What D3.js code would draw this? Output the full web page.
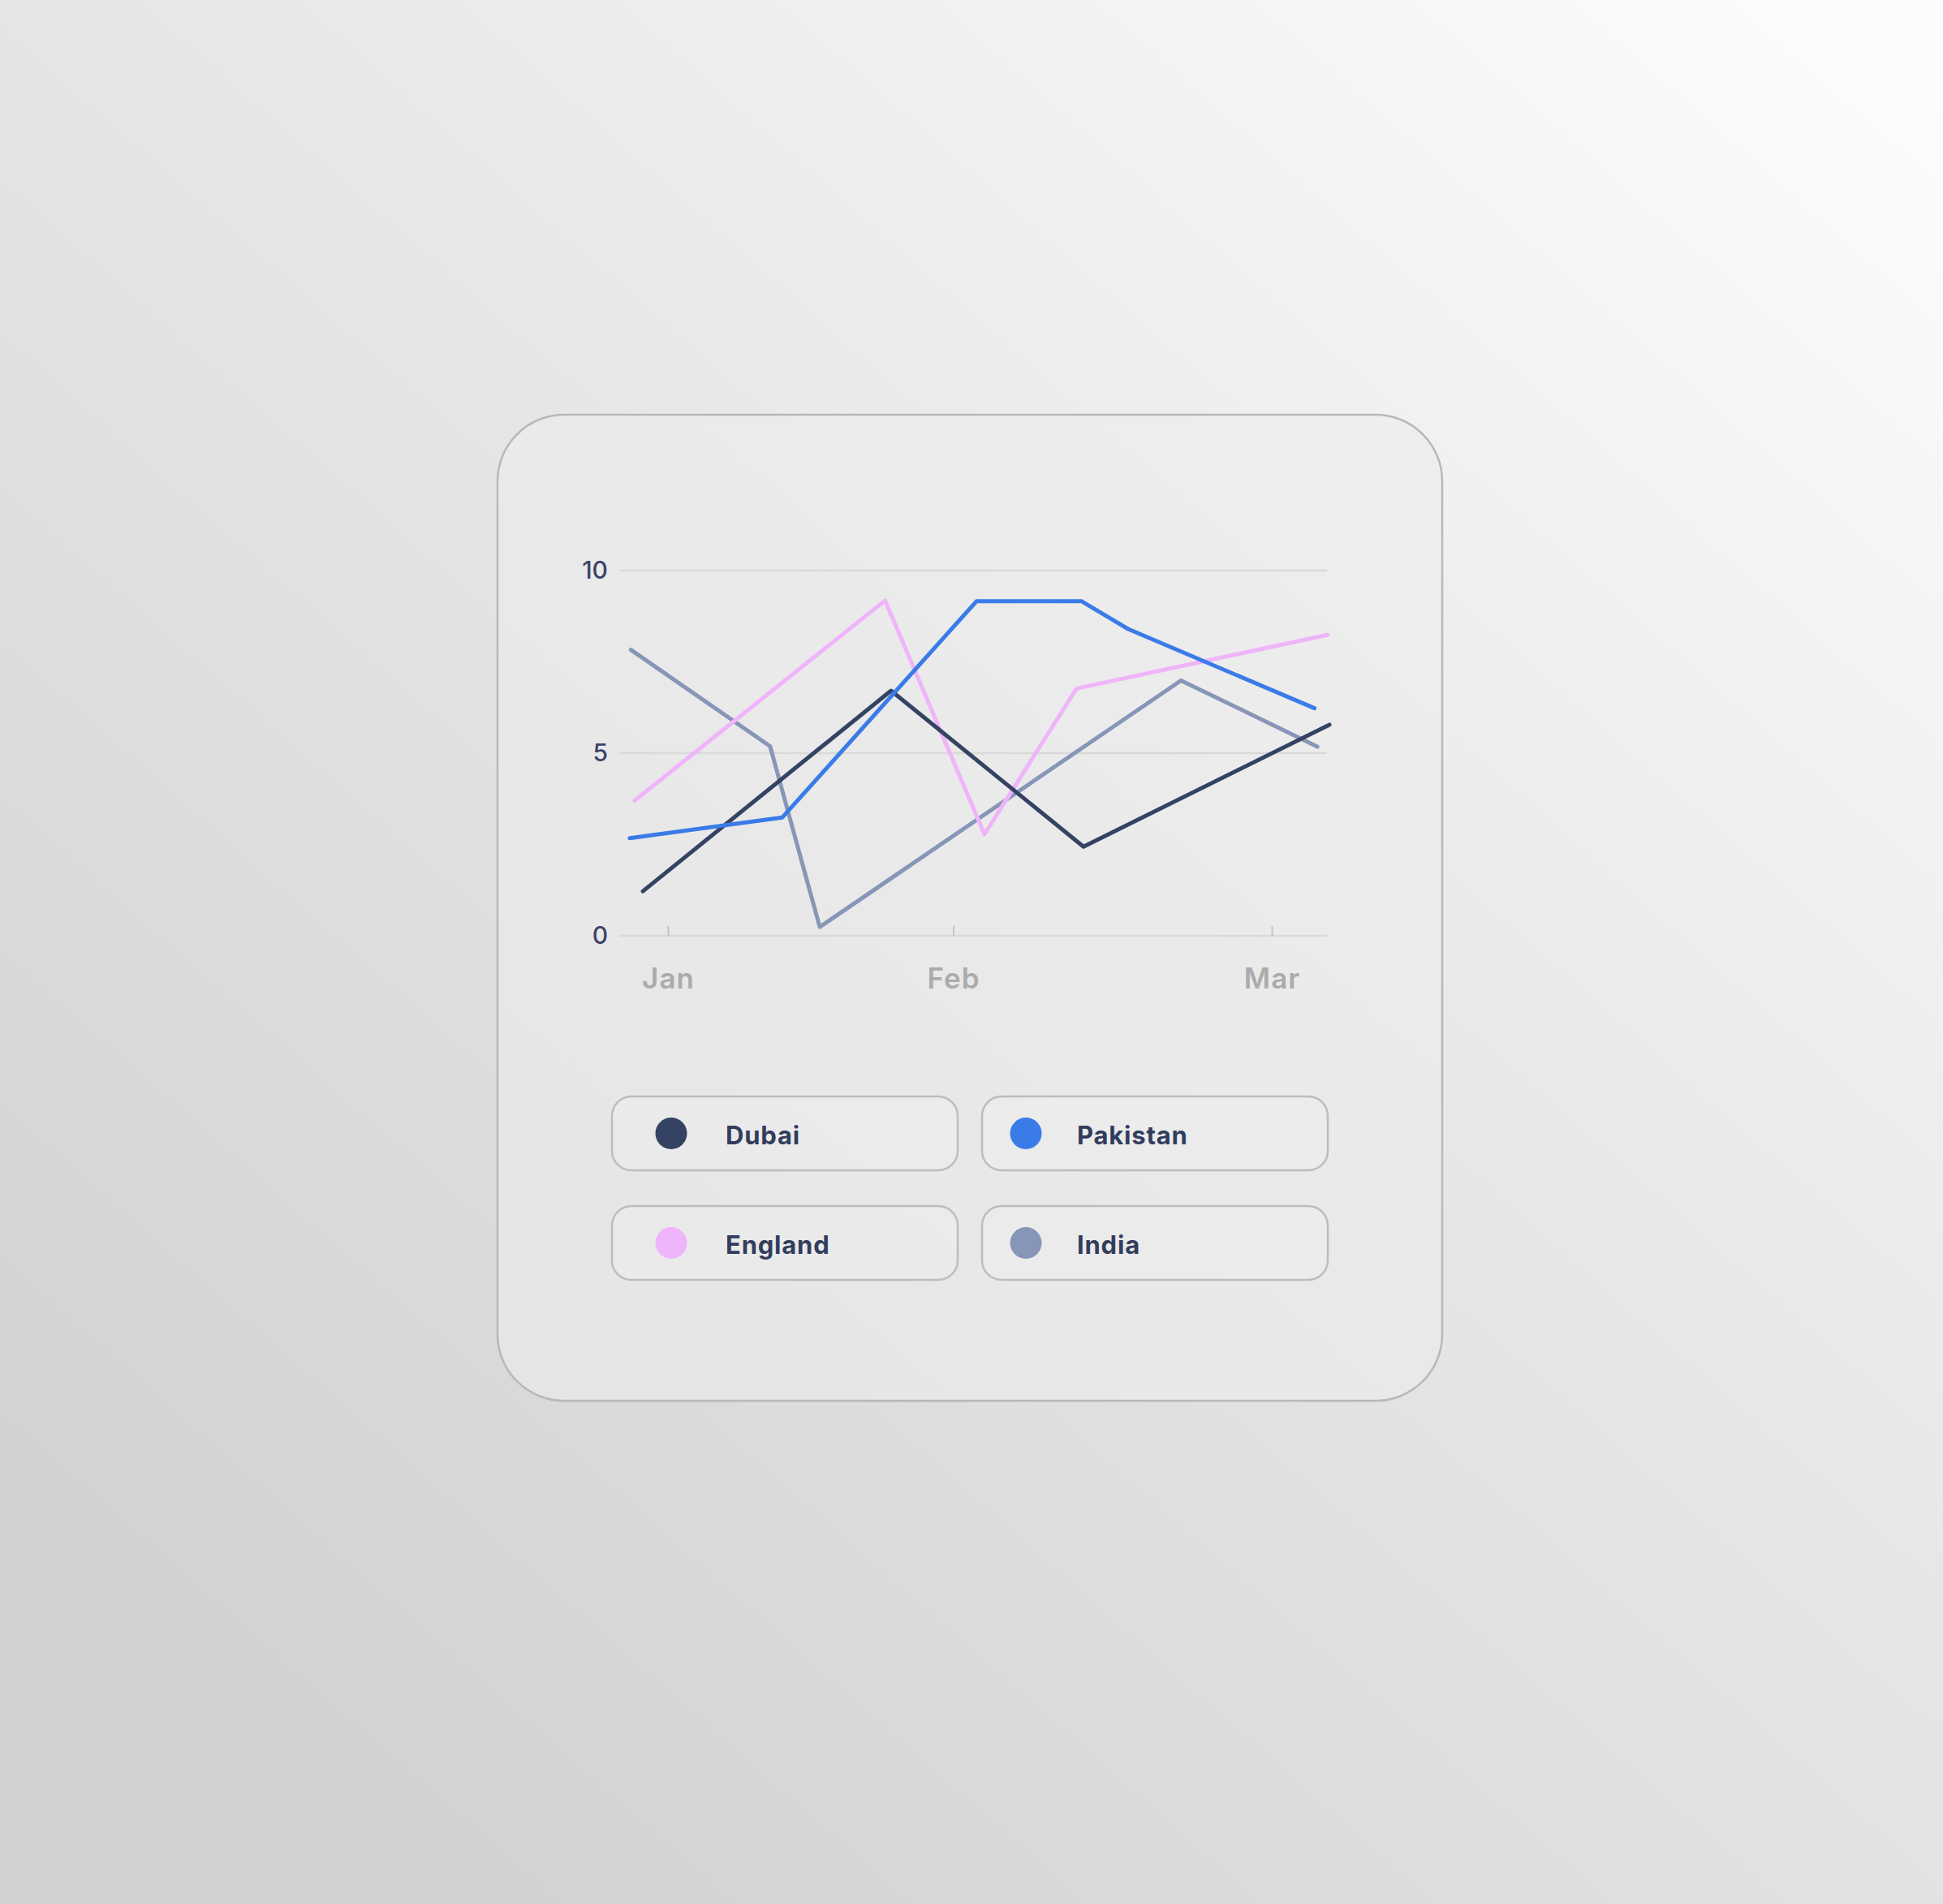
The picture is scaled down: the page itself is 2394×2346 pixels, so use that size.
<!DOCTYPE html>
<html lang="en">
<head>
<meta charset="utf-8">
<title>Line chart card</title>
<script src="https://cdn.jsdelivr.net/npm/d3@7"></script>
<style>
  html, body { margin: 0; padding: 0; background: #e6e6e6; }
  svg { display: block; font-family: "Inter", "Open Sans", sans-serif; }
</style>
</head>
<body>
<div id="chart"></div>
<script>
// data. x is in "months from Jan" units
var months = ["Jan", "Feb", "Mar"];
var yTicks = [0, 5, 10];
var seriesNames = ["Dubai", "Pakistan", "England", "India"];
var seriesColors = ["#344263", "#3a7be8", "#f0b4fa", "#8796b8"];

var dubaiX = [-0.088, 0.782, 1.409, 2.181];
var dubaiY = [1.22, 6.71, 2.44, 5.78];

var pakistanX = [-0.134, 0.401, 1.073, 1.403, 1.549, 2.134];
var pakistanY = [2.67, 3.24, 9.16, 9.16, 8.40, 6.23];

var englandX = [-0.117, 0.761, 1.098, 1.387, 2.175];
var englandY = [3.70, 9.18, 2.78, 6.77, 8.24];

var indiaX = [-0.130, 0.358, 0.532, 1.715, 2.143];
var indiaY = [7.83, 5.19, 0.24, 6.99, 5.18];

var W = 2394, H = 2346;

var svg = d3.select("#chart").append("svg")
    .attr("width", W)
    .attr("height", H);

// page background
var defs = svg.append("defs");
var bg = defs.append("linearGradient")
    .attr("id", "bg")
    .attr("gradientUnits", "userSpaceOnUse")
    .attr("x1", 420).attr("y1", 2200)
    .attr("x2", 2300).attr("y2", 60);
bg.append("stop").attr("offset", 0).attr("stop-color", "#d2d2d2");
bg.append("stop").attr("offset", 0.5).attr("stop-color", "#e6e6e6");
bg.append("stop").attr("offset", 1).attr("stop-color", "#fcfcfc");

svg.append("rect")
    .attr("width", W)
    .attr("height", H)
    .attr("fill", "url(#bg)");

// card
svg.append("rect")
    .attr("x", 613).attr("y", 511)
    .attr("width", 1164).attr("height", 1215)
    .attr("rx", 82)
    .attr("fill", "rgba(236,236,236,0.6)")
    .attr("stroke", "#b8b8b8")
    .attr("stroke-width", 2.5);

// plot area
var left = 763, right = 1635;

var x = d3.scaleLinear()
    .domain([0, 1, 2])
    .range([823, 1174.5, 1567]);

var y = d3.scaleLinear()
    .domain([0, 10])
    .range([1153, 703]);

// grid lines
svg.append("g").selectAll("line")
    .data(yTicks)
    .enter().append("line")
    .attr("x1", left).attr("x2", right)
    .attr("y1", function(d) { return y(d); })
    .attr("y2", function(d) { return y(d); })
    .attr("stroke", "#d9d9d9")
    .attr("stroke-width", 2.5);

// y labels
var yAxis = svg.append("g")
    .attr("transform", "translate(" + (left - 14) + ",0)")
    .call(d3.axisLeft(y).tickValues(yTicks).tickSize(0).tickPadding(0));
yAxis.select(".domain").remove();
yAxis.selectAll("text")
    .attr("font-family", "Inter, sans-serif")
    .attr("font-size", 30)
    .attr("font-weight", 500)
    .attr("fill", "#3a4468");

// x axis: small ticks pointing up, grey month labels
var xAxis = svg.append("g")
    .attr("transform", "translate(0," + y(0) + ")")
    .call(d3.axisBottom(x)
        .tickValues([0, 1, 2])
        .tickFormat(function(i) { return months[i]; })
        .tickSizeInner(-12)
        .tickSizeOuter(0)
        .tickPadding(40));
xAxis.select(".domain").remove();
xAxis.selectAll(".tick line")
    .attr("stroke", "#c4c4c4")
    .attr("stroke-width", 2);
xAxis.selectAll("text")
    .attr("font-family", "Inter, sans-serif")
    .attr("font-size", 35)
    .attr("font-weight", 600)
    .attr("letter-spacing", 1)
    .attr("fill", "#ababab");

// lines
var series = [
    { name: seriesNames[0], xs: dubaiX, ys: dubaiY, color: seriesColors[0] },
    { name: seriesNames[1], xs: pakistanX, ys: pakistanY, color: seriesColors[1] },
    { name: seriesNames[2], xs: englandX, ys: englandY, color: seriesColors[2] },
    { name: seriesNames[3], xs: indiaX, ys: indiaY, color: seriesColors[3] }
];

var line = d3.line()
    .x(function(d) { return x(d[0]); })
    .y(function(d) { return y(d[1]); });

// draw order as in the picture (pink under blue, dubai on top of some)
var drawOrder = [3, 2, 0, 1];
drawOrder.forEach(function(k) {
    var s = series[k];
    svg.append("path")
        .datum(d3.zip(s.xs, s.ys))
        .attr("d", line)
        .attr("fill", "none")
        .attr("stroke", s.color)
        .attr("stroke-width", 5)
        .attr("stroke-linecap", "round")
        .attr("stroke-linejoin", "round");
});

// legend boxes
var colX = [754, 1210];
var rowY = [1351, 1486];
var dotOffset = [73, 54];
var textOffset = [140, 117];

series.forEach(function(s, i) {
    var c = i % 2, r = Math.floor(i / 2);
    var g = svg.append("g")
        .attr("transform", "translate(" + colX[c] + "," + rowY[r] + ")");
    g.append("rect")
        .attr("width", 426).attr("height", 91)
        .attr("rx", 24)
        .attr("fill", "rgba(240,240,240,0.4)")
        .attr("stroke", "#bdbdbd")
        .attr("stroke-width", 2.5);
    g.append("circle")
        .attr("cx", dotOffset[c])
        .attr("cy", 45.5)
        .attr("r", 19.5)
        .attr("fill", s.color);
    g.append("text")
        .attr("x", textOffset[c])
        .attr("y", 59)
        .attr("font-family", "Inter, sans-serif")
        .attr("font-size", 31)
        .attr("font-weight", 700)
        .attr("letter-spacing", 0.8)
        .attr("fill", "#323d5c")
        .text(s.name);
});
</script>
</body>
</html>
